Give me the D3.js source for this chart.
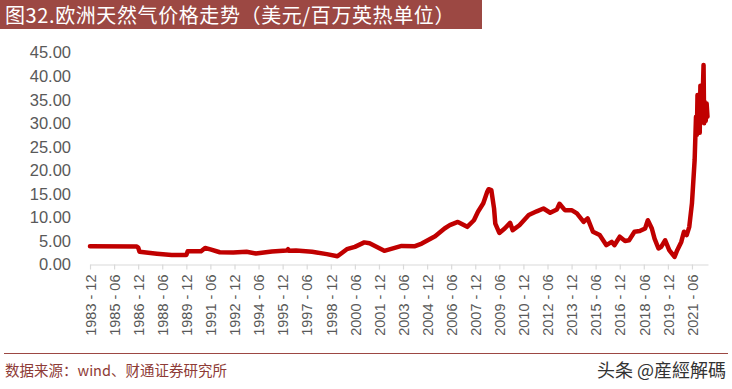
<!DOCTYPE html>
<html>
<head>
<meta charset="utf-8">
<script src="https://cdn.jsdelivr.net/npm/d3@7"></script>
<style>
  html, body { margin: 0; padding: 0; background: #fff; }
  svg { display: block; }
</style>
</head>
<body>
<svg id="chart" width="732" height="389"></svg>
<script>
// ---- data ----
const titleText = "图32.欧洲天然气价格走势（美元/百万英热单位）";
const sourceText = "数据来源：wind、财通证券研究所";
const watermarkText = "头条 @産經解碼";

const dates = [
  "1983-12-01","1986-11-01","1986-12-01","1987-01-01","1988-02-01","1989-01-01","1989-12-01",
  "1990-01-01","1990-11-01","1991-02-01","1991-06-01","1992-01-01","1992-11-01","1993-09-01",
  "1994-04-01","1995-04-01","1996-03-01","1996-04-01","1996-05-01","1996-10-01","1997-10-01",
  "1998-09-01","1999-05-01","1999-12-01","2000-06-01","2001-01-01","2001-05-01","2002-04-01",
  "2003-05-01","2004-03-01","2004-08-01","2005-06-01","2006-01-01","2006-05-01","2006-11-01",
  "2007-06-01","2007-11-01","2008-02-01","2008-06-01","2008-09-01","2008-10-01","2008-12-01",
  "2009-02-01","2009-03-01","2009-06-01","2009-10-01","2010-02-01","2010-04-01","2010-09-01",
  "2011-04-01","2011-10-01","2012-03-01","2012-08-01","2013-01-01","2013-03-01","2013-07-01",
  "2013-12-01","2014-04-01","2014-09-01","2014-12-01","2015-04-01","2015-09-01","2016-02-01",
  "2016-06-01","2016-08-01","2016-12-01","2017-04-01","2017-07-01","2017-11-01","2018-03-01",
  "2018-07-01","2018-09-01","2018-12-01","2019-02-01","2019-05-01","2019-07-01","2019-10-01",
  "2020-01-01","2020-05-01","2020-07-01","2020-10-01","2020-12-01","2021-02-01","2021-04-01",
  "2021-06-01","2021-08-01","2021-09-01","2021-09-20","2021-10-05","2021-10-20","2021-11-10",
  "2021-11-25","2021-12-10","2021-12-25","2022-01-10","2022-02-01","2022-02-20","2022-03-05",
  "2022-03-20","2022-04-10","2022-05-01","2022-05-20"
];
const prices = [
  3.9,3.8,3.6,2.7,2.3,2.0,2.0,
  2.8,2.8,3.5,3.2,2.6,2.55,2.7,
  2.35,2.75,2.95,3.25,2.9,2.95,2.7,
  2.2,1.75,3.25,3.75,4.7,4.5,2.9,
  3.95,3.9,4.45,6.0,7.65,8.35,9.05,
  8.0,9.4,11.2,13.0,15.5,16.0,15.8,
  11.9,8.7,6.7,7.65,8.85,7.3,8.35,
  10.5,11.3,11.9,11.0,11.7,12.9,11.55,
  11.55,10.85,9.05,9.8,6.95,6.25,4.1,
  4.8,4.1,5.9,5.0,5.15,6.95,7.1,
  7.65,9.4,7.65,5.5,3.4,3.75,5.15,
  3.05,1.6,3.05,4.8,6.95,6.25,8.0,
  13.0,22.2,31.4,27.5,36,29,35,
  28,38,33,31,36,42.4,30,
  34.5,30.5,34.2,31.4
];
const yTicks = [0,5,10,15,20,25,30,35,40,45];
const xTickLabels = [
  "1983-12","1985-06","1986-12","1988-06","1989-12","1991-06","1992-12","1994-06","1995-12",
  "1997-06","1998-12","2000-06","2001-12","2003-06","2004-12","2006-06","2007-12","2009-06",
  "2010-12","2012-06","2013-12","2015-06","2016-12","2018-06","2019-12","2021-06"
];
const xDomain = ["1983-12-01","2022-06-01"];

// ---- drawing ----
const svg = d3.select("#chart");
const parse = d3.timeParse("%Y-%m-%d");
const parseYM = d3.timeParse("%Y-%m");
const data = dates.map((d, i) => ({ date: parse(d), value: prices[i] }));

const x = d3.scaleTime().domain(xDomain.map(parse)).range([90, 708]);
const y = d3.scaleLinear().domain([0, 45]).range([264.5, 52.7]);

// title bar
svg.append("rect").attr("x", 0).attr("y", 0).attr("width", 482).attr("height", 29)
  .attr("fill", "#9c4843");
svg.append("text").attr("x", 5).attr("y", 22.5)
  .attr("fill", "#ffffff")
  .attr("font-family", "'Noto Sans CJK SC', sans-serif")
  .attr("font-size", 20)
  .attr("letter-spacing", 0.6)
  .text(titleText);

// y axis labels
const yAxis = d3.axisLeft(y).tickValues(yTicks).tickFormat(d3.format(".2f")).tickSize(0).tickPadding(0);
const gy = svg.append("g").attr("transform", "translate(71,0)").call(yAxis);
gy.select(".domain").remove();
gy.selectAll("text")
  .attr("fill", "#595959")
  .attr("font-family", "'Liberation Sans', Arial, sans-serif")
  .attr("font-size", 16.5);

// x axis
const xAxis = d3.axisBottom(x)
  .tickValues(xTickLabels.map(parseYM))
  .tickFormat(d => d3.timeFormat("%Y - %m")(d))
  .tickSize(5).tickSizeOuter(0);
const gx = svg.append("g").attr("transform", "translate(0,264.5)").call(xAxis);
gx.select(".domain").attr("stroke", "#d9d9d9").attr("stroke-width", 1.2);
gx.selectAll(".tick line").attr("stroke", "#d9d9d9").attr("stroke-width", 1.2);
gx.selectAll("text")
  .attr("fill", "#595959")
  .attr("font-family", "'Liberation Sans', Arial, sans-serif")
  .attr("font-size", 14.5)
  .attr("text-anchor", "end")
  .attr("transform", "rotate(-90)")
  .attr("x", -10)
  .attr("y", 0)
  .attr("dy", "0.36em");

// line
const line = d3.line().x(d => x(d.date)).y(d => y(d.value)).curve(d3.curveLinear);
svg.append("path").datum(data)
  .attr("d", line)
  .attr("fill", "none")
  .attr("stroke", "#c00000")
  .attr("stroke-width", 4.5)
  .attr("stroke-linejoin", "round")
  .attr("stroke-linecap", "round");

// footer
svg.append("line").attr("x1", 4).attr("x2", 728).attr("y1", 353.5).attr("y2", 353.5)
  .attr("stroke", "#9c4843").attr("stroke-width", 1.2);
svg.append("text").attr("x", 5).attr("y", 376)
  .attr("fill", "#8e3b36")
  .attr("font-family", "'Noto Sans CJK SC', serif")
  .attr("font-size", 14.5)
  .text(sourceText);
svg.append("text").attr("x", 726).attr("y", 377)
  .attr("text-anchor", "end")
  .attr("fill", "#333333")
  .attr("font-family", "'Noto Sans CJK TC', sans-serif")
  .attr("font-size", 18)
  .text(watermarkText);
</script>
</body>
</html>
